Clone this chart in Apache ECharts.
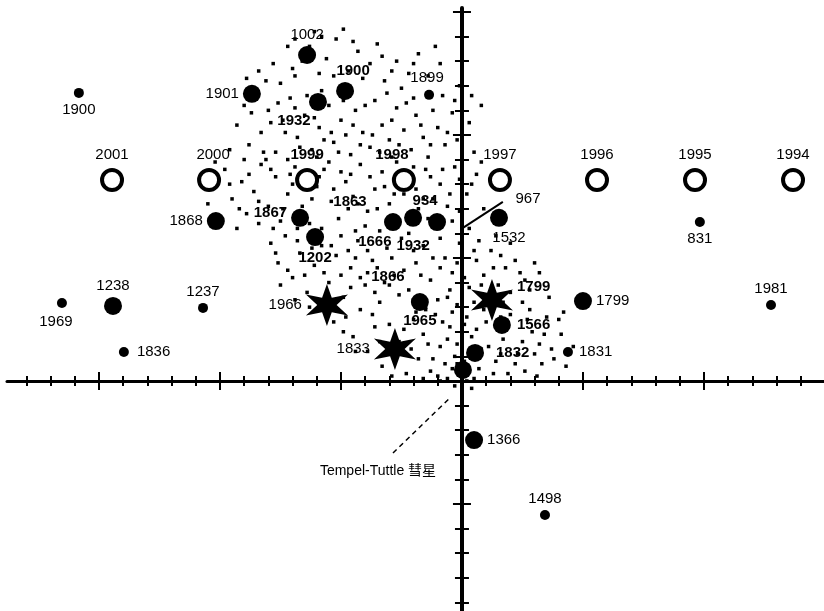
<!DOCTYPE html>
<html>
<head>
<meta charset="utf-8">
<script src="https://cdn.jsdelivr.net/npm/echarts@6/dist/echarts.min.js"></script>
<style>
  html, body { margin: 0; padding: 0; background: #fff; }
  #chart { width: 824px; height: 611px; }
</style>
</head>
<body>
<div id="chart"></div>
<script>
// Leonid meteor returns around comet Tempel-Tuttle (axis units = tick steps)

// big filled dots
const bigYears = ["1901", "1002", "1900", "1932", "1867", "1863", "934", "", "1532", "1202", "1868", "1238", "1799", "1566", "1832", "1965", "", "1366"];
const bigX = [-8.68, -6.40, -4.83, -5.95, -6.69, -2.85, -2.02, -1.03, 1.53, -6.07, -10.17, -14.42, 5.00, 1.65, 0.54, -1.74, 0.04, 0.50];
const bigY = [11.67, 13.25, 11.79, 11.34, 6.63, 6.46, 6.63, 6.46, 6.63, 5.85, 6.50, 3.05, 3.25, 2.28, 1.14, 3.21, 0.45, -2.40];

// small filled dots
const smallYears = ["1900", "1899", "1237", "1969", "1836", "831", "1981", "1831", "1498"];
const smallX = [-15.83, -1.36, -10.70, -16.53, -13.97, 9.83, 12.77, 4.38, 3.43];
const smallY = [11.71, 11.63, 2.97, 3.17, 1.18, 6.46, 3.09, 1.18, -5.45];

// open rings (recent years)
const ringYears = ["2001", "2000", "1999", "1998", "1997", "1996", "1995", "1994"];
const ringX = [-14.46, -10.45, -6.40, -2.40, 1.57, 5.58, 9.63, 13.68];
const ringY = [8.17, 8.17, 8.17, 8.17, 8.17, 8.17, 8.17, 8.17];

// storms (stars)
const starYears = ["1966", "1833", "1799"];
const starX = [-5.58, -2.77, 1.24];
const starY = [3.09, 1.30, 3.29];

// labels without a mark of their own
const textYears = ["1666", "1932", "1866", "967"];
const textX = [-3.60, -2.02, -3.06, 2.73];
const textY = [5.65, 5.49, 4.23, 7.40];

// pointer lines
const leaderLine967 = [[0.04, 6.22], [1.69, 7.28]];
const cometLine = [[-2.85, -2.93], [-0.50, -0.69]];
const cometLabel = [-3.47, -3.66];

// meteoroid dust cloud
const dust = [
  [-7.8,12.9],[-7.2,13.6],[-6.9,12.4],[-6.1,14.2],[-5.6,13.1],[-5.2,13.9],[-4.7,12.6],[-4.3,13.4],[-3.8,12.9],[-3.2,12.2],
  [-2.7,13.0],[-2.2,12.5],[-1.8,13.3],[-7.5,12.1],[-6.6,13.0],[-4.9,14.3],[-3.5,13.7],[-2.5,11.9],[-1.4,12.4],[-0.9,12.9],
  [-8.4,12.6],[-5.9,12.5],
  [-9.3,10.4],[-9.0,11.2],[-8.8,9.6],[-8.3,10.1],[-8.0,11.0],[-7.7,9.3],[-7.4,10.6],[-7.1,11.5],[-6.8,9.9],[-6.5,10.8],
  [-6.2,9.4],[-5.9,10.3],[-5.5,11.2],[-5.3,9.7],[-5.0,10.6],[-4.6,9.2],[-4.4,11.0],[-4.1,10.1],[-3.8,9.5],[-3.6,11.4],
  [-3.3,10.4],[-3.0,9.8],[-2.7,11.1],[-2.4,10.2],[-2.1,9.4],[-1.9,10.8],[-1.6,9.9],[-1.2,11.0],[-1.0,10.3],[-0.7,9.6],
  [-0.4,10.9],[-0.2,9.8],[0.3,10.5],[-9.6,9.4],[-8.6,11.7],[-7.9,10.5],[-6.9,11.1],[-6.0,9.1],[-4.8,10.0],[-3.1,11.7],
  [-2.0,11.5],[-0.8,11.6],[0.5,9.3],[-1.4,9.1],[-7.2,9.0],[-5.7,9.8],[-4.2,9.6],[-2.9,9.1],
  [-9.8,8.6],[-9.5,7.4],[-9.1,8.1],[-8.9,6.8],[-8.6,7.7],[-8.3,8.8],[-8.0,7.1],[-7.7,8.3],[-7.5,6.5],[-7.2,7.6],
  [-6.9,8.7],[-6.6,7.1],[-6.3,6.4],[-6.0,7.9],[-5.7,8.6],[-5.4,7.3],[-5.1,6.6],[-4.8,8.1],[-4.5,7.5],[-4.2,8.8],
  [-3.9,6.9],[-3.6,7.8],[-3.3,8.5],[-3.0,7.2],[-2.7,8.9],[-2.4,7.6],[-2.1,8.3],[-1.8,7.0],[-1.5,8.6],[-1.2,7.4],
  [-0.9,8.0],[-0.6,7.1],[-0.3,8.7],[0.2,7.6],[0.6,8.4],[0.9,7.0],[-9.3,6.2],[-8.1,9.0],[-6.8,6.2],[-5.5,8.9],
  [-4.0,6.3],[-3.4,6.1],[-2.2,6.0],[-1.0,6.2],[-7.0,8.0],[-4.7,7.0],[-1.9,7.8],[-0.4,6.5],
  [-7.9,5.6],[-7.6,4.8],[-7.3,5.9],[-7.0,4.2],[-6.7,5.2],[-6.4,3.6],[-6.1,4.7],[-5.8,5.5],[-5.5,4.0],[-5.2,5.1],
  [-4.9,3.4],[-4.6,4.6],[-4.3,5.7],[-4.0,3.9],[-3.7,4.9],[-3.4,3.2],[-3.1,5.4],[-2.8,4.3],[-2.5,5.8],[-2.2,3.7],
  [-1.9,4.8],[-1.6,5.5],[-1.3,4.1],[-1.0,3.3],[-0.7,5.0],[-0.4,4.4],[-0.1,5.6],[0.3,3.8],[0.6,4.9],[0.9,4.3],
  [1.2,5.3],[1.5,3.9],[1.8,4.6],[2.2,4.9],[2.6,4.1],[-6.9,3.3],[-5.0,5.9],[-3.9,4.4],[-2.6,3.5],[-1.5,3.0],
  [-0.2,3.1],[1.0,3.5],[2.0,3.6],[-7.5,3.9],[-5.9,3.1],[-4.4,5.0],[-3.0,3.9],[-0.9,5.8],[0.7,5.7],
  [-4.8,2.6],[-4.5,1.8],[-4.2,2.9],[-3.9,1.2],[-3.6,2.2],[-3.3,0.6],[-2.0,2.5],[-1.8,0.9],[-1.6,1.9],[-1.3,0.4],
  [-1.1,2.7],[-0.9,1.4],[-0.7,0.7],[-0.5,2.2],[-0.3,1.0],[-0.1,0.3],[0.2,2.6],[0.4,1.8],[0.7,0.5],[0.9,2.9],
  [1.1,1.4],[1.4,0.8],[1.7,1.7],[2.0,2.7],[2.3,1.1],[2.6,0.4],[2.9,2.0],[3.2,1.5],[3.5,2.6],[3.8,0.9],
  [4.1,1.9],[4.6,1.4],[-2.3,0.3],[-2.6,1.6],[-1.5,2.9],[0.0,2.0],[1.6,2.6],[2.8,2.9],[3.3,0.7],[-0.6,0.1],
  [0.5,0.1],[-1.0,0.2],[0.1,0.8],[-0.2,1.5],[0.3,1.2],[-0.4,0.5],
  [1.4,5.9],[2.0,5.6],[-10.2,8.9],[-10.5,7.2],[0.8,11.2],[-8.9,12.3],[-0.1,12.0],[3.2,4.4],[4.2,2.8],[-5.3,2.4],
  [-8.7,10.9],[-8.2,9.3],[-7.6,11.3],[-7.3,10.1],[-6.7,9.5],[-6.4,11.6],[-6.1,10.7],[-5.8,11.8],[-5.4,10.1],[-5.1,9.3],
  [-4.9,11.4],[-4.5,10.4],[-4.0,11.2],[-3.7,10.0],[-3.4,9.3],[-2.9,10.6],[-2.6,9.6],[-2.3,11.3],[-1.7,10.4],[-1.3,9.6],
  [-0.6,10.1],[-0.3,11.4],[0.4,11.6],[-7.0,12.7],[-6.3,13.6],[-5.3,12.4],[-4.5,13.8],[-4.1,12.3],[-3.3,13.2],[-2.9,12.6],
  [-2.0,12.9],[-1.1,13.6],[-5.8,14.0],[-6.9,13.9],[-8.1,12.2],
  [-9.6,8.0],[-9.2,7.0],[-8.8,8.4],[-8.4,7.3],[-7.9,8.6],[-7.4,7.0],[-7.1,8.4],[-6.5,8.2],[-6.2,7.4],[-5.9,8.3],
  [-5.3,7.8],[-5.0,8.5],[-4.6,8.4],[-4.3,7.2],[-3.8,8.3],[-3.5,7.0],[-3.2,7.9],[-2.8,7.6],[-2.5,8.4],[-2.0,8.7],
  [-1.6,7.4],[-1.3,8.3],[-0.8,8.6],[-0.5,7.6],[-0.1,8.2],[0.4,8.0],[0.8,8.9],[-9.0,9.0],[-8.4,6.4],[-7.8,6.2],
  [-5.8,6.2],[-4.4,6.1],[-2.6,6.4],[-1.4,6.6],[-0.1,6.9],[0.3,6.2],
  [-7.7,5.2],[-7.2,4.5],[-6.8,5.7],[-6.5,4.3],[-6.2,5.4],[-5.7,4.4],[-5.4,5.5],[-5.0,4.3],[-4.7,5.3],[-4.2,4.2],
  [-3.9,5.3],[-3.5,4.6],[-3.2,4.0],[-2.9,5.0],[-2.4,4.5],[-2.0,5.3],[-1.7,4.3],[-1.2,5.0],[-0.9,4.6],[-0.5,3.7],
  [-0.2,4.8],[0.1,4.2],[0.5,5.3],[0.8,3.9],[1.3,4.6],[1.6,5.1],[2.4,4.4],[2.8,3.7],[3.0,4.8],[-6.3,3.0],
  [-4.6,3.8],[-3.6,3.6],[-2.0,3.3],[-0.6,3.4],[0.5,3.2],[1.7,3.2],[2.5,3.2],[3.6,3.4],
  [-4.9,2.0],[-4.4,1.2],[-3.7,2.7],[-3.4,1.6],[-3.0,2.3],[-2.8,0.9],[-2.4,2.1],[-2.1,1.3],[-1.9,2.8],[-1.4,1.5],
  [-1.2,0.9],[-0.8,2.4],[-0.6,1.7],[-0.4,2.8],[-0.2,0.7],[0.1,2.3],[0.3,0.5],[0.6,2.1],[0.8,1.3],[1.0,2.4],
  [1.3,0.3],[1.6,1.1],[1.9,2.2],[2.2,0.7],[2.5,1.6],[2.7,2.5],[3.0,1.1],[3.4,1.9],[3.7,1.3],[4.0,2.5],
  [4.3,0.6],[-0.9,0.0],[0.0,0.1],[0.2,0.0],[-0.3,-0.2],[0.4,-0.3],[-1.6,0.1],[-2.9,0.2],[1.9,0.3],[3.1,0.2]
];

// axis ticks
const xTicks = [];
for (let i = -18; i <= 14; i++) if (i !== 0) xTicks.push(i);
const xMajor = [-15, -10, -5, 5, 10];
const yTicks = [];
for (let i = -9; i <= 15; i++) if (i !== 0) yTicks.push(i);
const yMajor = [-5, 5, 10, 15];

const font = '"Liberation Sans", Arial, sans-serif';
const black = "#000";

// label placement (style only)
const bigLabel = {
  "1901": { position: "left" },
  "1002": { position: "top" },
  "1900": { position: "top", offset: [8, 0], fontWeight: "bold" },
  "1932": { position: "bottom", offset: [-24, -2], fontWeight: "bold" },
  "1867": { position: "left", offset: [0, -5], fontWeight: "bold" },
  "1863": { position: "top", offset: [-43, 0], fontWeight: "bold" },
  "934": { position: "top", offset: [12, 4], fontWeight: "bold" },
  "1532": { position: "bottom", offset: [10, 0] },
  "1202": { position: "bottom", offset: [0, 0], fontWeight: "bold" },
  "1868": { position: "left" },
  "1238": { position: "top" },
  "1799": { position: "right" },
  "1566": { position: "right", offset: [2, 0], fontWeight: "bold" },
  "1832": { position: "right", offset: [8, 0], fontWeight: "bold" },
  "1965": { position: "bottom", offset: [0, -2], fontWeight: "bold" },
  "1366": { position: "right" },
};
const smallLabel = {
  "1900": { position: "bottom" },
  "1899": { position: "top", offset: [-2, 0] },
  "1237": { position: "top" },
  "1969": { position: "bottom", offset: [-6, 2] },
  "1836": { position: "right", offset: [4, 0] },
  "831": { position: "bottom" },
  "1981": { position: "top" },
  "1831": { position: "right", offset: [2, 0] },
  "1498": { position: "top" },
};
const ringLabel = {
  "2000": { offset: [4, 0] },
  "1999": { fontWeight: "bold" },
  "1998": { offset: [-12, 0], fontWeight: "bold" },
};
const starLabel = {
  "1966": { position: "left" },
  "1833": { position: "left" },
  "1799": { position: "right", offset: [0, -13], fontWeight: "bold" },
};
const textLabelStyle = {
  "1666": { fontWeight: "bold" },
  "1932": { fontWeight: "bold" },
  "1866": { fontWeight: "bold" },
  "967": {},
};

function points(names, xs, ys, labelMap, defaults) {
  return names.map((n, i) => ({
    value: [xs[i], ys[i]],
    name: n,
    label: Object.assign(
      { show: n !== "", formatter: n, color: black, fontFamily: font, fontSize: 15, distance: 4 },
      defaults || {},
      labelMap[n] || {}
    ),
  }));
}

const starPath = "path://M10,0L12,6.54L18.66,5L14,10L18.66,15L12,13.46L10,20L8,13.46L1.34,15L6,10L1.34,5L8,6.54Z";

function xAxisDef(ticks, len, inside, showLine) {
  return {
    type: "value", position: "bottom", min: -18.8, max: 14.96,
    axisLine: { show: showLine, onZero: true, onZeroAxisIndex: 0, lineStyle: { color: black, width: 3 } },
    axisTick: { show: true, customValues: ticks, length: len, inside: inside, lineStyle: { color: black, width: 2 } },
    axisLabel: { show: false }, splitLine: { show: false },
  };
}
function yAxisDef(ticks, len, inside, showLine) {
  return {
    type: "value", position: "left", min: -9.35, max: 15.16,
    axisLine: { show: showLine, onZero: true, onZeroAxisIndex: 0, lineStyle: { color: black, width: 4 } },
    axisTick: { show: true, customValues: ticks, length: len, inside: inside, lineStyle: { color: black, width: 2 } },
    axisLabel: { show: false }, splitLine: { show: false },
  };
}

const chart = echarts.init(document.getElementById("chart"), null, { renderer: "canvas" });

const option = {
  backgroundColor: "#fff",
  animation: false,
  grid: { left: 7, right: 0, top: 8, bottom: 0 },
  xAxis: [
    xAxisDef(xTicks, 5, true, true),
    xAxisDef(xTicks, 5, false, false),
    xAxisDef(xMajor, 9, true, false),
    xAxisDef(xMajor, 9, false, false),
  ],
  yAxis: [
    yAxisDef(yTicks, 7, true, true),
    yAxisDef(yTicks, 7, false, false),
    yAxisDef(yMajor, 9, true, false),
    yAxisDef(yMajor, 9, false, false),
  ],
  series: [
    {
      name: "dust", type: "scatter", symbol: "rect", symbolSize: 3.5,
      itemStyle: { color: black, opacity: 1 }, data: dust, silent: true, z: 1,
    },
    {
      name: "comet pointer", type: "line", data: cometLine, symbol: "none",
      lineStyle: { color: black, width: 1.5, type: [5, 4] }, z: 2,
    },
    {
      name: "967 pointer", type: "line", data: leaderLine967, symbol: "none",
      lineStyle: { color: black, width: 2 }, z: 2,
    },
    {
      name: "comet", type: "scatter", symbolSize: 0,
      itemStyle: { color: black, opacity: 1 },
      data: [{
        value: cometLabel,
        label: { show: true, position: "inside", formatter: "Tempel-Tuttle 彗星", color: black,
          fontFamily: '"Liberation Sans", "Noto Sans CJK SC", sans-serif', fontSize: 14 },
      }],
      z: 3,
    },
    {
      name: "rings", type: "scatter", symbol: "circle", symbolSize: 20,
      itemStyle: { color: "#fff", borderColor: black, borderWidth: 4, opacity: 1 },
      data: points(ringYears, ringX, ringY, ringLabel, { position: "top", distance: 6 }),
      z: 4,
    },
    {
      name: "big", type: "scatter", symbol: "circle", symbolSize: 18,
      itemStyle: { color: black, opacity: 1 },
      data: points(bigYears, bigX, bigY, bigLabel),
      z: 4,
    },
    {
      name: "small", type: "scatter", symbol: "circle", symbolSize: 10,
      itemStyle: { color: black, opacity: 1 },
      data: points(smallYears, smallX, smallY, smallLabel),
      z: 4,
    },
    {
      name: "stars", type: "scatter", symbol: starPath, symbolSize: 42,
      itemStyle: { color: black, opacity: 1 },
      data: points(starYears, starX, starY, starLabel),
      z: 4,
    },
    {
      name: "labels", type: "scatter", symbolSize: 0,
      itemStyle: { color: black, opacity: 1 },
      data: points(textYears, textX, textY, textLabelStyle, { position: "inside" }),
      z: 5,
    },
  ],
};

chart.setOption(option);
</script>
</body>
</html>
